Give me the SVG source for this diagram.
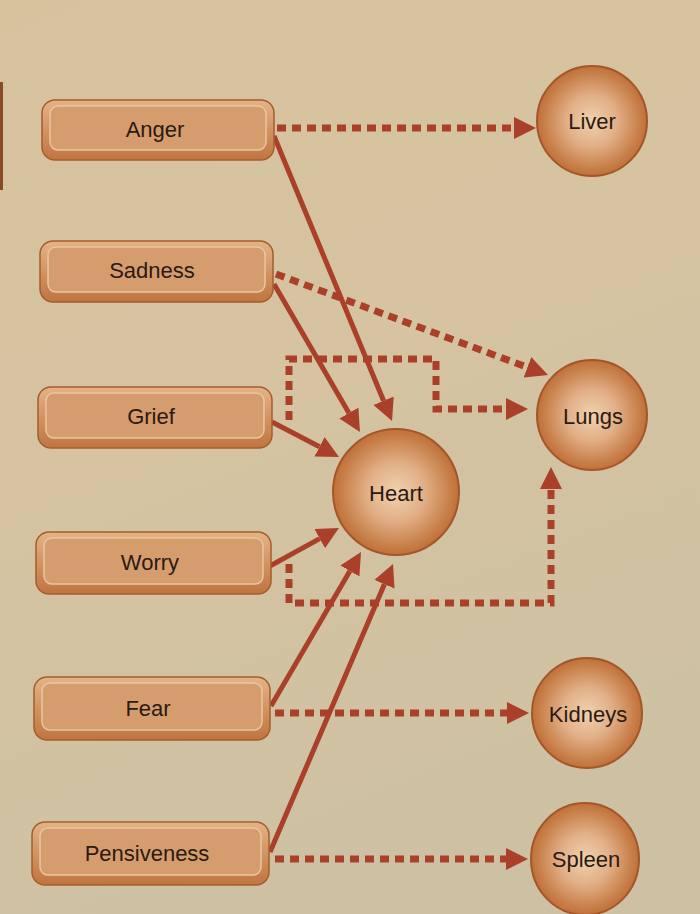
<svg xmlns="http://www.w3.org/2000/svg" width="700" height="914" viewBox="0 0 700 914">
<defs>
<linearGradient id="bg" x1="0" y1="0" x2="0.3" y2="1">
<stop offset="0" stop-color="#d7c29e"/>
<stop offset="0.5" stop-color="#d5c3a1"/>
<stop offset="1" stop-color="#cec1a3"/>
</linearGradient>
<linearGradient id="boxOuter" x1="0" y1="0" x2="0" y2="1">
<stop offset="0" stop-color="#e4b386"/>
<stop offset="1" stop-color="#c07441"/>
</linearGradient>
<radialGradient id="orb" cx="0.5" cy="0.5" r="0.5">
<stop offset="0" stop-color="#efd2ae"/>
<stop offset="0.45" stop-color="#e2b088"/>
<stop offset="0.85" stop-color="#c9814b"/>
<stop offset="1" stop-color="#c0703a"/>
</radialGradient>
<marker id="ah" viewBox="0 0 22 22" refX="0" refY="11" markerWidth="22" markerHeight="22" markerUnits="userSpaceOnUse" orient="auto">
<path d="M0,0 L22,11 L0,22 Z" fill="#ab402a"/>
</marker>
</defs>
<style>
.box-o{fill:url(#boxOuter);stroke:#a45e2d;stroke-width:1.5}
.box-i{fill:#d59d6e;stroke:#ecc59c;stroke-width:1.5}
.orb{fill:url(#orb);stroke:#a35628;stroke-width:2}
.lbl{font-family:"Liberation Sans",Arial,sans-serif;font-size:22px;fill:#2b1a12;text-anchor:middle;dominant-baseline:central}
.solid{fill:none;stroke:#ab402a;stroke-width:5;marker-end:url(#ah)}
.dash{fill:none;stroke:#ab402a;stroke-width:7;stroke-dasharray:9 6;marker-end:url(#ah)}
</style>
<rect width="700" height="914" fill="url(#bg)"/>
<rect x="0" y="82" width="3" height="108" fill="#8a4a25"/>

<g id="connectors">
<line class="solid" x1="274" y1="136" x2="383.6" y2="400.7"/>
<line class="solid" x1="274" y1="284" x2="348.9" y2="413"/>
<line class="solid" x1="272" y1="422" x2="319.5" y2="446.8"/>
<line class="solid" x1="270" y1="566" x2="319.7" y2="538.6"/>
<line class="solid" x1="271" y1="706" x2="349.9" y2="571"/>
<line class="solid" x1="270" y1="852" x2="384.4" y2="584.2"/>
<line class="dash" x1="277" y1="128" x2="514" y2="128"/>
<line class="dash" x1="276" y1="274" x2="527.4" y2="367.3"/>
<polyline class="dash" points="289,420 289,359 436,359 436,409 506,409"/>
<polyline class="dash" points="289,564 289,603 551,603 551,489"/>
<line class="dash" x1="275" y1="713" x2="507" y2="713"/>
<line class="dash" x1="275" y1="859" x2="506" y2="859"/>
</g>

<g id="anger">
<rect class="box-o" x="42" y="100" width="232" height="60" rx="13"/>
<rect class="box-i" x="50" y="106" width="216" height="44" rx="8"/>
<text class="lbl" x="155" y="129">Anger</text>
</g>
<g id="sadness">
<rect class="box-o" x="40" y="241" width="233" height="61" rx="13"/>
<rect class="box-i" x="48" y="247" width="217" height="45" rx="8"/>
<text class="lbl" x="152" y="270">Sadness</text>
</g>
<g id="grief">
<rect class="box-o" x="38" y="387" width="234" height="61" rx="13"/>
<rect class="box-i" x="46" y="393" width="218" height="45" rx="8"/>
<text class="lbl" x="151" y="416">Grief</text>
</g>
<g id="worry">
<rect class="box-o" x="36" y="532" width="235" height="62" rx="13"/>
<rect class="box-i" x="44" y="538" width="219" height="46" rx="8"/>
<text class="lbl" x="150" y="562">Worry</text>
</g>
<g id="fear">
<rect class="box-o" x="34" y="677" width="236" height="63" rx="13"/>
<rect class="box-i" x="42" y="683" width="220" height="47" rx="8"/>
<text class="lbl" x="148" y="708">Fear</text>
</g>
<g id="pensiveness">
<rect class="box-o" x="32" y="822" width="237" height="63" rx="13"/>
<rect class="box-i" x="40" y="828" width="221" height="47" rx="8"/>
<text class="lbl" x="147" y="853">Pensiveness</text>
</g>

<g id="liver">
<circle class="orb" cx="592" cy="121" r="55"/>
<text class="lbl" x="592" y="121">Liver</text>
</g>
<g id="lungs">
<circle class="orb" cx="592" cy="415" r="55"/>
<text class="lbl" x="593" y="416">Lungs</text>
</g>
<g id="heart">
<circle class="orb" cx="396" cy="492" r="63"/>
<text class="lbl" x="396" y="493">Heart</text>
</g>
<g id="kidneys">
<circle class="orb" cx="587" cy="713" r="55"/>
<text class="lbl" x="588" y="714">Kidneys</text>
</g>
<g id="spleen">
<ellipse class="orb" cx="585" cy="859" rx="54" ry="56"/>
<text class="lbl" x="586" y="859">Spleen</text>
</g>
</svg>
